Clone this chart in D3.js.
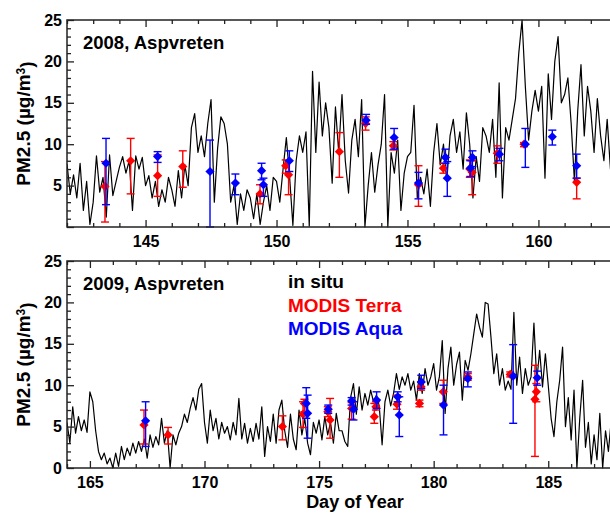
<!DOCTYPE html>
<html><head><meta charset="utf-8">
<script src="https://cdn.jsdelivr.net/npm/d3@7"></script>
<style>
body{margin:0;background:#fff}
svg{display:block}
text{font-family:"Liberation Sans",Arial,Helvetica,sans-serif;font-weight:bold}
</style>
</head><body>
<svg id="c" width="610" height="514"></svg>
<script>
// ---------- data ----------
const insituStep = 0.125;           // days between in-situ samples
const insitu2008Start = 142;
const insitu2008 = [
 7.6,4.0,6.3,3.5,7.7,2.0,5.5,0.3,
 3.0,8.6,4.2,6.0,1.2,8.7,3.8,5.5,
 7.2,8.5,6.5,8.0,2.0,8.6,7.0,8.4,
 5.0,6.2,3.5,5.5,2.5,4.5,3.0,6.0,
 4.5,2.5,6.8,3.5,7.5,5.0,12.0,13.7,
 9.0,11.0,8.5,12.5,15.4,3.0,9.5,13.3,
 12.5,10.0,3.0,5.0,0.3,4.0,2.0,4.5,
 3.5,1.0,4.0,0.3,3.0,5.0,2.0,6.0,
 5.5,3.0,7.0,10.8,6.0,0.2,8.0,11.0,
 9.0,11.5,0.1,18.8,9.0,17.5,11.0,15.0,
 12.0,5.3,14.5,9.0,16.0,8.0,4.1,10.5,
 13.0,8.5,15.4,0.0,5.0,9.0,4.2,7.5,
 10.0,16.0,0.0,9.0,6.5,10.5,2.0,6.5,
 8.5,9.0,14.7,3.5,6.0,4.0,7.0,2.5,
 9.0,12.5,7.5,10.0,5.5,11.0,13.0,9.0,
 11.5,7.0,13.8,10.0,3.5,8.5,5.5,12.0,
 11.0,9.0,13.0,6.0,17.4,3.5,12.0,10.5,
 13.0,15.5,21.0,25.0,17.0,10.5,14.0,16.5,
 14.0,17.0,5.9,18.5,13.0,20.0,23.0,15.0,
 16.0,18.0,12.5,5.5,14.0,19.6,11.0,17.0,
 14.0,9.0,15.5,11.0,8.0,13.0,7.0,10.0,
 9.0
];
const insitu2009Start = 164;
const insitu2009 = [
 5.5,3.0,7.4,4.2,6.2,4.5,5.8,4.3,
 9.2,8.0,4.5,2.0,1.0,1.8,0.5,1.2,
 0.0,1.8,0.2,2.6,1.0,2.4,1.5,3.0,
 1.8,3.2,2.0,3.5,1.2,4.0,2.5,3.8,
 2.8,6.0,3.0,4.5,0.0,4.0,2.8,4.2,
 5.0,6.5,5.5,7.2,8.5,7.0,9.5,10.2,
 5.5,3.0,7.0,4.5,6.0,3.5,5.5,4.2,
 5.0,3.4,5.5,4.0,8.4,3.5,5.4,3.0,
 4.8,3.2,5.4,3.5,7.4,1.4,5.0,3.2,
 6.5,3.0,7.0,8.2,4.5,2.5,6.5,3.5,
 2.2,7.0,4.0,6.0,3.0,1.6,5.5,4.2,
 5.8,3.4,6.2,4.0,5.5,3.0,6.6,4.5,
 4.5,3.2,2.6,8.5,10.2,6.5,9.8,7.0,
 9.0,7.6,9.4,8.0,8.8,7.5,2.8,8.0,
 9.4,7.5,9.0,11.4,9.5,11.0,10.0,11.4,
 9.4,10.5,8.2,11.4,9.0,12.0,10.0,11.0,
 12.6,9.4,11.0,15.4,6.6,12.0,14.6,10.0,
 12.5,14.0,8.2,13.0,11.8,13.8,16.2,18.6,
 17.0,15.8,20.0,19.8,15.8,11.4,13.8,10.0,
 12.0,9.4,10.5,9.5,18.8,10.0,13.4,9.0,
 12.0,10.0,11.0,17.5,10.5,14.2,9.8,13.8,
 10.0,6.0,3.8,8.0,10.6,14.6,5.0,8.5,
 3.4,9.4,0.0,6.0,10.6,2.5,5.5,0.5,
 4.0,1.0,6.6,0.0,4.5,2.0,5.8,3.0,
 4.0
];

const terra2008Day = [143.45,144.43,145.46,146.42,149.37,150.35,150.46,152.40,153.40,154.46,155.42,156.37,157.38,157.47,158.43,159.45,161.46];
const terra2008Val = [4.9,8.0,6.2,7.3,4.0,7.4,6.3,9.1,12.5,9.8,5.1,7.1,7.0,6.6,8.9,10.0,5.4];
const terra2008Lo  = [0.6,4.0,3.7,4.8,2.8,6.5,3.9,6.0,11.7,9.3,2.5,6.5,6.0,3.9,7.7,9.7,3.4];
const terra2008Hi  = [7.9,10.7,8.7,9.2,5.1,8.1,8.0,11.4,13.3,10.3,7.4,7.7,8.1,8.0,9.8,10.2,5.9];

const aqua2008Day = [143.49,145.46,147.46,148.43,149.43,149.50,150.49,153.42,154.49,155.42,156.45,156.52,157.40,157.48,158.51,159.50,160.53,161.46];
const aqua2008Val = [7.7,8.5,6.7,5.3,6.8,5.1,8.0,12.9,10.8,5.3,8.4,5.9,7.1,8.4,8.8,10.0,10.9,7.4];
const aqua2008Lo  = [2.7,7.8,0.0,3.9,5.7,3.7,6.7,12.4,9.4,3.4,7.7,3.7,6.1,7.3,8.0,7.2,9.9,5.9];
const aqua2008Hi  = [10.7,9.1,10.5,6.4,7.7,5.9,9.2,13.6,11.9,6.6,9.4,7.9,8.0,9.2,9.5,11.9,11.7,8.8];

const terra2009Day = [167.36,168.41,173.40,174.30,174.36,175.38,175.48,176.42,177.41,177.48,178.40,179.38,179.45,180.42,181.49,183.34,184.42,184.48];
const terra2009Val = [5.2,4.0,5.0,6.5,7.8,6.8,5.8,7.2,6.2,7.4,7.7,7.8,9.8,9.2,11.0,11.3,8.3,9.2];
const terra2009Lo  = [2.9,2.9,3.4,4.9,6.8,6.2,3.6,5.9,5.4,7.0,7.1,7.4,9.4,7.8,10.6,11.0,1.4,8.0];
const terra2009Hi  = [7.0,4.9,6.3,8.0,8.3,7.4,8.4,7.9,7.8,8.0,8.8,8.2,10.4,10.6,11.4,11.6,12.4,10.2];

const aqua2009Day = [167.43,174.44,174.50,175.40,176.42,176.50,177.51,178.43,178.50,179.46,180.43,181.49,183.47,184.52];
const aqua2009Val = [5.7,7.8,6.6,7.1,8.1,7.1,8.2,8.6,6.4,10.4,7.6,10.8,11.1,10.9];
const aqua2009Lo  = [2.6,6.0,3.6,6.6,7.6,5.8,7.2,8.0,3.8,9.6,4.0,9.8,5.4,10.0];
const aqua2009Hi  = [8.0,9.7,8.8,7.6,8.5,8.0,9.2,9.2,8.6,11.2,10.0,11.6,14.9,11.7];

const yMajorTicks2008 = [5,10,15,20,25];
const yMajorTicks2009 = [0,5,10,15,20,25];
const panelTitles = ["2008, Aspvreten","2009, Aspvreten"];
const legendLabels = ["in situ","MODIS Terra","MODIS Aqua"];
const yAxisTitle = "PM2.5 (µg/m";
const xAxisTitle = "Day of Year";

// ---------- drawing ----------
const RED = "#ff0000", BLUE = "#0000ff", AX = "#222";
const svg = d3.select("#c");
const xL = 67, xR = 617;

function drawPanel(cfg){
  const x = d3.scaleLinear().domain(cfg.xDomain).range([xL, xR]);
  const y = d3.scaleLinear().domain([0,25]).range([cfg.yBot, cfg.yTop]);
  const g = svg.append("g");
  const clipId = "clip" + cfg.id;
  svg.append("clipPath").attr("id", clipId).append("rect")
     .attr("x", xL).attr("y", cfg.yTop - 1).attr("width", xR - xL).attr("height", cfg.yBot - cfg.yTop + 2);

  const pts = cfg.series.map((v,i) => [cfg.start + i*insituStep, v]);
  g.append("path").attr("clip-path", `url(#${clipId})`)
   .attr("d", d3.line().x(d => x(d[0])).y(d => y(d[1]))(pts))
   .attr("fill","none").attr("stroke","#000").attr("stroke-width",1.2).attr("stroke-linejoin","round");

  function sat(days, vals, lo, hi, col){
    const sg = g.append("g");
    days.forEach((d,i) => {
      const cx = x(d);
      sg.append("line").attr("x1",cx).attr("x2",cx).attr("y1",y(lo[i])).attr("y2",y(hi[i]))
        .attr("stroke",col).attr("stroke-width",1.4);
      [lo[i],hi[i]].forEach(e => sg.append("line").attr("x1",cx-4).attr("x2",cx+4).attr("y1",y(e)).attr("y2",y(e))
        .attr("stroke",col).attr("stroke-width",1.4));
      const r = 4.6;
      sg.append("path").attr("d",`M0,${-r}L${r},0L0,${r}L${-r},0Z`)
        .attr("transform",`translate(${cx},${y(vals[i])})`).attr("fill",col);
    });
  }
  sat(cfg.terra[0], cfg.terra[1], cfg.terra[2], cfg.terra[3], RED);
  sat(cfg.aqua[0], cfg.aqua[1], cfg.aqua[2], cfg.aqua[3], BLUE);

  // axes
  const allX = d3.range(cfg.xDomain[0], cfg.xDomain[1] + 1);
  const majX = allX.filter(d => d % 5 === 0), minX = allX.filter(d => d % 5 !== 0);
  const allY = d3.range(0, 26);
  const majY = allY.filter(d => d % 5 === 0), minY = allY.filter(d => d % 5 !== 0);

  const ax = g.append("g");
  ax.append("g").attr("transform",`translate(0,${cfg.yBot})`)
    .call(d3.axisBottom(x).tickValues(majX).tickSize(-7).tickPadding(9).tickFormat(d3.format("d")));
  ax.append("g").attr("transform",`translate(0,${cfg.yBot})`)
    .call(d3.axisBottom(x).tickValues(minX).tickSize(-4).tickFormat(""));
  ax.append("g").attr("transform",`translate(0,${cfg.yTop})`)
    .call(d3.axisTop(x).tickValues(majX).tickSize(-7).tickFormat(""));
  ax.append("g").attr("transform",`translate(0,${cfg.yTop})`)
    .call(d3.axisTop(x).tickValues(minX).tickSize(-4).tickFormat(""));
  ax.append("g").attr("transform",`translate(${xL},0)`)
    .call(d3.axisLeft(y).tickValues(cfg.yMajor).tickSize(-7).tickPadding(5).tickFormat(d3.format("d")));
  ax.append("g").attr("transform",`translate(${xL},0)`)
    .call(d3.axisLeft(y).tickValues(majY.filter(d => !cfg.yMajor.includes(d))).tickSize(-7).tickFormat(""));
  ax.append("g").attr("transform",`translate(${xL},0)`)
    .call(d3.axisLeft(y).tickValues(minY).tickSize(-4).tickFormat(""));
  ax.selectAll(".domain").remove();
  ax.selectAll(".tick line").attr("stroke",AX).attr("stroke-width",1.3);
  ax.selectAll(".tick text").attr("fill","#000").style("font-size","16px");
  g.append("rect").attr("x",xL).attr("y",cfg.yTop).attr("width",xR-xL).attr("height",cfg.yBot-cfg.yTop)
   .attr("fill","none").attr("stroke",AX).attr("stroke-width",1.5);

  g.append("text").attr("x",83).attr("y",cfg.yTop + 29).style("font-size","18.5px").text(cfg.title);

  const yt = g.append("text").attr("transform",`translate(30,${(cfg.yTop+cfg.yBot)/2}) rotate(-90)`)
    .attr("text-anchor","middle").style("font-size","19px");
  yt.append("tspan").text(yAxisTitle);
  yt.append("tspan").attr("dy","-0.45em").style("font-size","12px").text("3");
  yt.append("tspan").attr("dy","0.45em").text(")");
  return {x,y};
}

drawPanel({id:1, xDomain:[142,163], yTop:20, yBot:227, series:insitu2008, start:insitu2008Start,
  terra:[terra2008Day,terra2008Val,terra2008Lo,terra2008Hi], aqua:[aqua2008Day,aqua2008Val,aqua2008Lo,aqua2008Hi],
  yMajor:yMajorTicks2008, title:panelTitles[0]});
drawPanel({id:2, xDomain:[164,188], yTop:261, yBot:468, series:insitu2009, start:insitu2009Start,
  terra:[terra2009Day,terra2009Val,terra2009Lo,terra2009Hi], aqua:[aqua2009Day,aqua2009Val,aqua2009Lo,aqua2009Hi],
  yMajor:yMajorTicks2009, title:panelTitles[1]});

const legCols = ["#000", RED, BLUE];
legendLabels.forEach((t,i) => svg.append("text").attr("x",288).attr("y",288 + i*23.5)
  .attr("fill",legCols[i]).style("font-size","19px").text(t));

svg.append("text").attr("x",355).attr("y",508).attr("text-anchor","middle").style("font-size","18px").text(xAxisTitle);
</script>
</body></html>
